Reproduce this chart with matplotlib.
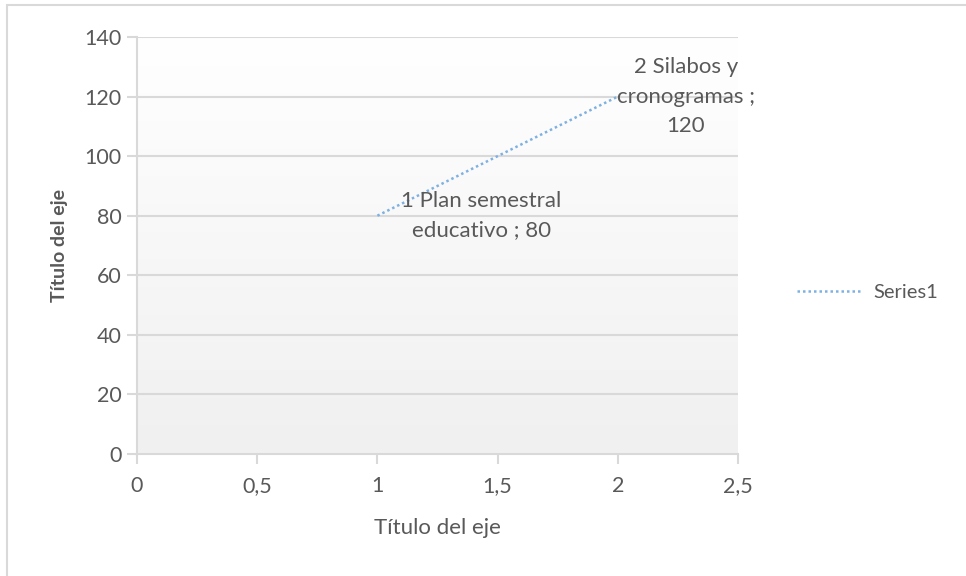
import matplotlib
matplotlib.use("Agg")
import matplotlib.pyplot as plt
import numpy as np
from matplotlib.patches import Rectangle

x_vals = [1, 2]
y_vals = [80, 120]
point_labels = ["1 Plan semestral\neducativo ; 80", "2 Silabos y\ncronogramas ;\n120"]
x_ticks = [0, 0.5, 1, 1.5, 2, 2.5]
x_tick_labels = ["0", "0,5", "1", "1,5", "2", "2,5"]
y_ticks = [0, 20, 40, 60, 80, 100, 120, 140]
series_name = "Series1"
x_title = "Título del eje"
y_title = "Título del eje"

plt.rcParams['font.family'] = ['Lato', 'DejaVu Sans']
txt = '#595959'
grid_c = '#d9d9d9'
line_c = '#7eb1e2'

fig = plt.figure(figsize=(9.66, 5.76), dpi=100)
fig.patches.append(Rectangle((7/966, -0.01), 1.0, 1 - 5/576 + 0.01, transform=fig.transFigure,
                             fill=False, edgecolor='#d9d9d9', linewidth=1.5))
ax = fig.add_axes([137/966, 1 - 454/576, 601/966, 417/576])

ax.set_xlim(0, 2.5)
ax.set_ylim(0, 140)
grad = np.linspace(0, 1, 256).reshape(-1, 1)
ax.imshow(grad, extent=[0, 2.5, 0, 140], aspect='auto', origin='lower',
          cmap=matplotlib.colors.LinearSegmentedColormap.from_list('g', ['#f0f0f0', '#ffffff']),
          zorder=0)

for yv in y_ticks[1:]:
    ax.axhline(yv, color=grid_c, linewidth=1.5, zorder=1)

series_line, = ax.plot(x_vals, y_vals, linestyle=(0, (1, 1.2)), color=line_c, linewidth=1.8,
                       zorder=3, label=series_name)

offsets = [(75, 0), (49, 0)]
for xv, yv, lab, off in zip(x_vals, y_vals, point_labels, offsets):
    ax.annotate(lab, (xv, yv), xytext=off, textcoords='offset points', ha='center', va='center',
                multialignment='center', fontsize=16, color=txt, zorder=4, linespacing=1.6)

ax.set_xticks(x_ticks)
ax.set_xticklabels(x_tick_labels)
ax.set_yticks(y_ticks)
for s in ['top', 'right']:
    ax.spines[s].set_visible(False)
for s in ['left', 'bottom']:
    ax.spines[s].set_color(grid_c)
    ax.spines[s].set_linewidth(1.5)
ax.tick_params(axis='both', colors=grid_c, labelcolor=txt, labelsize=15.5, length=7, width=1.5, pad=4)
ax.tick_params(axis='x', pad=9)

ax.set_xlabel(x_title, fontsize=16, color=txt, labelpad=16)
ax.set_ylabel(y_title, fontsize=14, color=txt, fontweight='bold', labelpad=12)

leg = fig.legend(handles=[series_line], labels=[series_name], loc='center left',
                 bbox_to_anchor=(779/966, 1 - 292/576), frameon=False, fontsize=14.5,
                 handlelength=3.2, handletextpad=0.6, labelcolor=txt)

fig.savefig("out.png", dpi=100)
